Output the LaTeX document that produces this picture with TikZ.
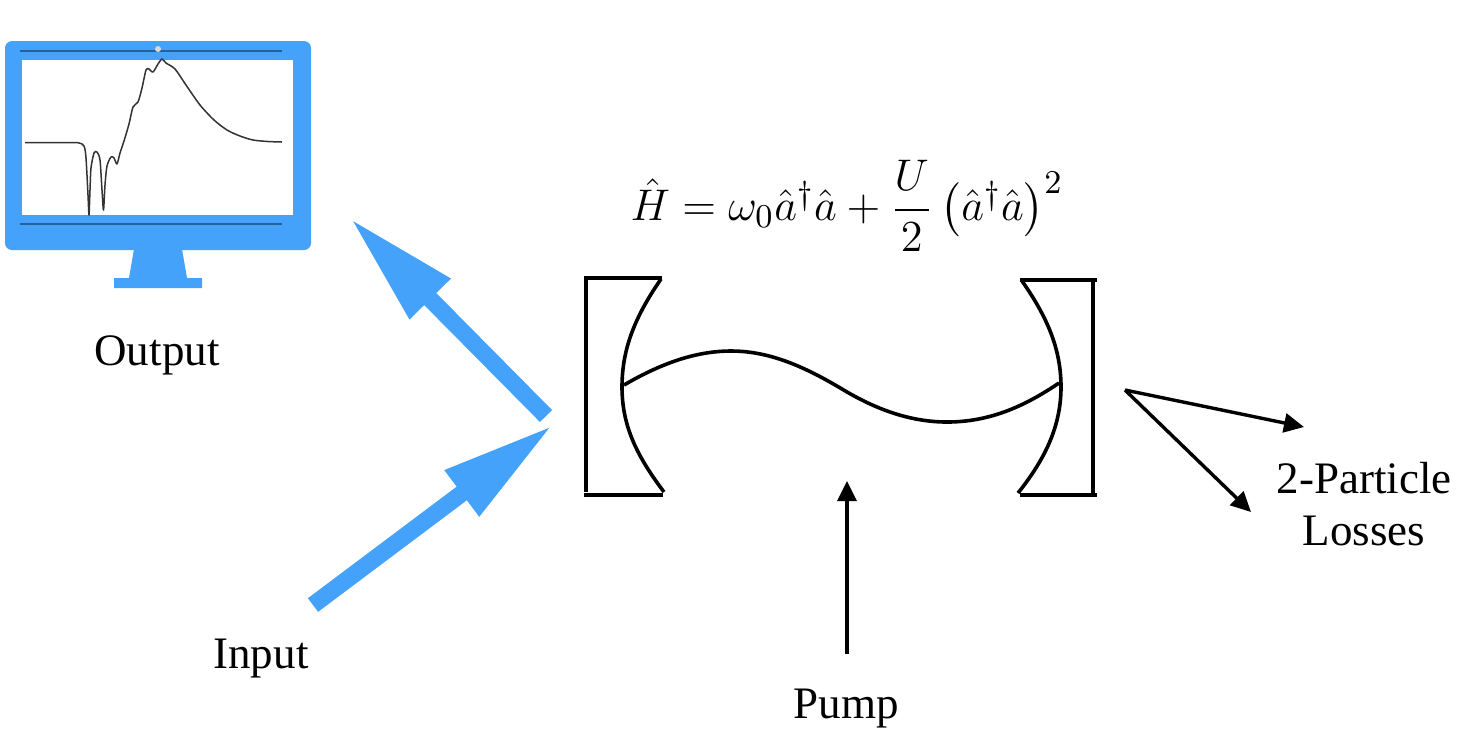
\documentclass[tikz,border=0pt]{standalone}
\usepackage{fontspec}
\setmainfont{Liberation Serif}
\usepackage{amsmath, amssymb}
\usepackage{xcolor}
\usetikzlibrary{arrows.meta, positioning}
\definecolor{screenblue}{RGB}{68, 162, 250}
\definecolor{rimblue}{RGB}{38, 96, 150}

\begin{document}
\begin{tikzpicture}[
  x=0.01cm, y=-0.01cm,
  every node/.style={font=\fontsize{12.8}{14.8}\selectfont, inner sep=0pt},
  label/.style={align=center},
  mirror/.style={line width=0.036cm, black},
  beam/.style={-{Triangle[length=1.14cm, width=0.53cm]}, line width=0.17cm, color=screenblue},
  thin arrow/.style={-{Triangle[length=0.2cm, width=0.19cm]}, line width=0.034cm, black}
]
  \useasboundingbox (0,0) rectangle (1458,744);

  % monitor
  \fill[screenblue, rounded corners=0.07cm] (5,41) rectangle (311,250);
  \fill[screenblue] (134,249) -- (182,249) -- (187,278) -- (202,278) -- (202,288) -- (114,288) -- (114,278) -- (129,278) -- cycle;
  \fill[white] (22,60) rectangle (293,215);
  \draw[rimblue, line width=0.012cm] (20,51) -- (282,51);
  \draw[rimblue, line width=0.012cm] (20,224) -- (282,224);
  \fill[white!85!black] (158,49) circle (0.03cm);
  \draw[black!80, line width=0.015cm, line join=round] plot[smooth, tension=0.45] coordinates {(25,142.7) (60,142.7) (78,142.7) (84,146) (86,158) (88,195) (89,215) (90,190) (91,168) (94,153) (97,152) (100,160) (102,190) (103.5,210) (105,185) (107,166) (111,157) (114,158) (117,164) (120,153) (124,141) (129,124) (133,107) (138,102) (142,88) (146,70) (149,69) (153,72) (158,64) (162,59) (166,63) (175,69) (186,85) (200,105) (214,120) (227,130) (240,136) (253,140) (268,141.5) (282,142)};

  % cavity mirrors
  \draw[mirror] (584,278) -- (662,278);
  \draw[mirror] (586,278) -- (586,492);
  \draw[mirror] (584,495) -- (663,495);
  \draw[mirror] (661,279) .. controls (634,318) and (622,350) .. (622,387) .. controls (622,425) and (636,455) .. (664,492);
  \draw[mirror] (1020,280) -- (1097,280);
  \draw[mirror] (1093,280) -- (1093,495);
  \draw[mirror] (1020,495) -- (1097,495);
  \draw[mirror] (1022,281) .. controls (1048,318) and (1061,350) .. (1061,387) .. controls (1061,425) and (1046,458) .. (1018,493);

  % mode inside the cavity
  \draw[mirror] (624,385) .. controls (660,364) and (695,351) .. (731,351) .. controls (770,351) and (805,367) .. (842,389) .. controls (875,409) and (910,422) .. (947,422) .. controls (990,422) and (1025,406) .. (1059,383);

  \node[scale=1.05] (ham) at (847,206) {\fontsize{12.2}{15}\selectfont $\hat{H} = \omega_0 \hat{a}^\dagger \hat{a} + \dfrac{U}{2} \left(\hat{a}^\dagger \hat{a}\right)^2$};

  \node[label] (output) at (157,355) {Output};
  \node[label] (input) at (261,659) {Input};
  \node[label] (pump) at (846,709) {Pump};
  \node[label] (losses) at (1364,504) {2-Particle\\Losses};

  \coordinate (outStart) at (546,416);
  \coordinate (outTip) at (350,218);
  \coordinate (inStart) at (313,605);
  \coordinate (inTip) at (553,425);
  \coordinate (pumpStart) at (847,654);
  \coordinate (pumpTip) at (847,481);
  \coordinate (lossStart) at (1125,390);
  \coordinate (lossTipA) at (1304,427);
  \coordinate (lossTipB) at (1251,512);

  \draw[beam] (outStart) -- (outTip);
  \draw[beam] (inStart) -- (inTip);
  \draw[thin arrow] (pumpStart) -- (pumpTip);
  \draw[thin arrow] (lossStart) -- (lossTipA);
  \draw[thin arrow] (lossStart) -- (lossTipB);

\end{tikzpicture}
\end{document}
